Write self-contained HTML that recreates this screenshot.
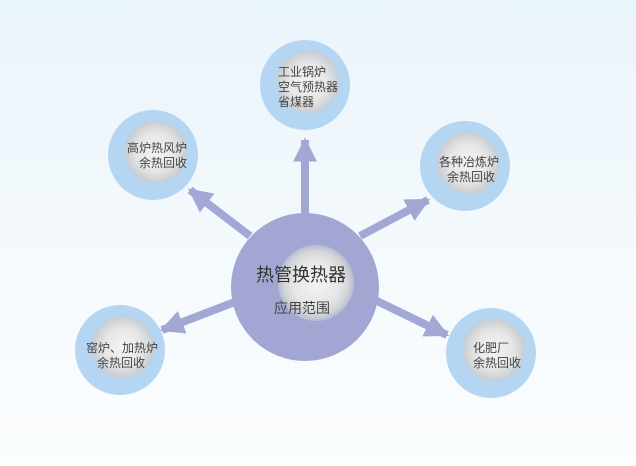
<!DOCTYPE html>
<html><head><meta charset="utf-8"><style>
html,body{margin:0;padding:0}
body{width:636px;height:466px;overflow:hidden;background:linear-gradient(#eaf4fb,#f5fafd 60%,#fbfdfe);font-family:"Liberation Sans","Noto Sans CJK SC",sans-serif}
</style></head><body>
<svg width="636" height="466" xmlns="http://www.w3.org/2000/svg" style="position:absolute;left:0;top:0">
<defs>
<radialGradient id="g" cx="50%" cy="50%" r="50%">
<stop offset="0" stop-color="#f4f4f4"/><stop offset="0.6" stop-color="#e6e6e6"/><stop offset="0.85" stop-color="#d2d4d6"/><stop offset="1" stop-color="#c4ccd4" stop-opacity="0.6"/>
</radialGradient>
<marker id="a" viewBox="0 0 10 10" refX="9" refY="5" markerWidth="3" markerHeight="3.2" orient="auto" markerUnits="strokeWidth">
<path d="M0,0 L10,5 L0,10 Z" fill="#a3a7d4"/></marker>
</defs>
<g stroke="#a3a7d4" stroke-width="8" marker-end="url(#a)">
<line x1="305" y1="215" x2="305" y2="140"/>
<line x1="250" y1="236" x2="190" y2="190"/>
<line x1="360" y1="236" x2="428" y2="200"/>
<line x1="240" y1="300" x2="162" y2="330"/>
<line x1="375" y1="300" x2="447" y2="335"/>
</g>
<g fill="#b4d6f2">
<circle cx="305" cy="85" r="45"/><circle cx="153" cy="155" r="45"/><circle cx="465" cy="166" r="45"/><circle cx="120" cy="350" r="45"/><circle cx="491" cy="353" r="45"/>
</g>
<g fill="url(#g)">
<circle cx="308" cy="82" r="32"/><circle cx="156" cy="152" r="32"/><circle cx="468" cy="163" r="32"/><circle cx="123" cy="347" r="32"/><circle cx="494" cy="350" r="32"/>
</g>
<circle cx="305" cy="287" r="74" fill="#a3a6d3"/>
<circle cx="316" cy="283" r="38" fill="url(#g)"/>
<g font-family="Liberation Sans,Noto Sans CJK SC,sans-serif" fill="#444" font-size="12">
<text x="278" y="76">工业锅炉</text><text x="278" y="91">空气预热器</text><text x="278" y="106">省煤器</text>
<text x="127" y="152">高炉热风炉</text><text x="139" y="167">余热回收</text>
<text x="439" y="166">各种冶炼炉</text><text x="447" y="181">余热回收</text>
<text x="86" y="352">窑炉、加热炉</text><text x="97" y="367">余热回收</text>
<text x="473" y="352">化肥厂</text><text x="473" y="367">余热回收</text>
<text x="256" y="281" font-size="18" fill="#333">热管换热器</text>
<text x="274" y="313" font-size="14" fill="#444">应用范围</text>
</g>
</svg>
</body></html>
